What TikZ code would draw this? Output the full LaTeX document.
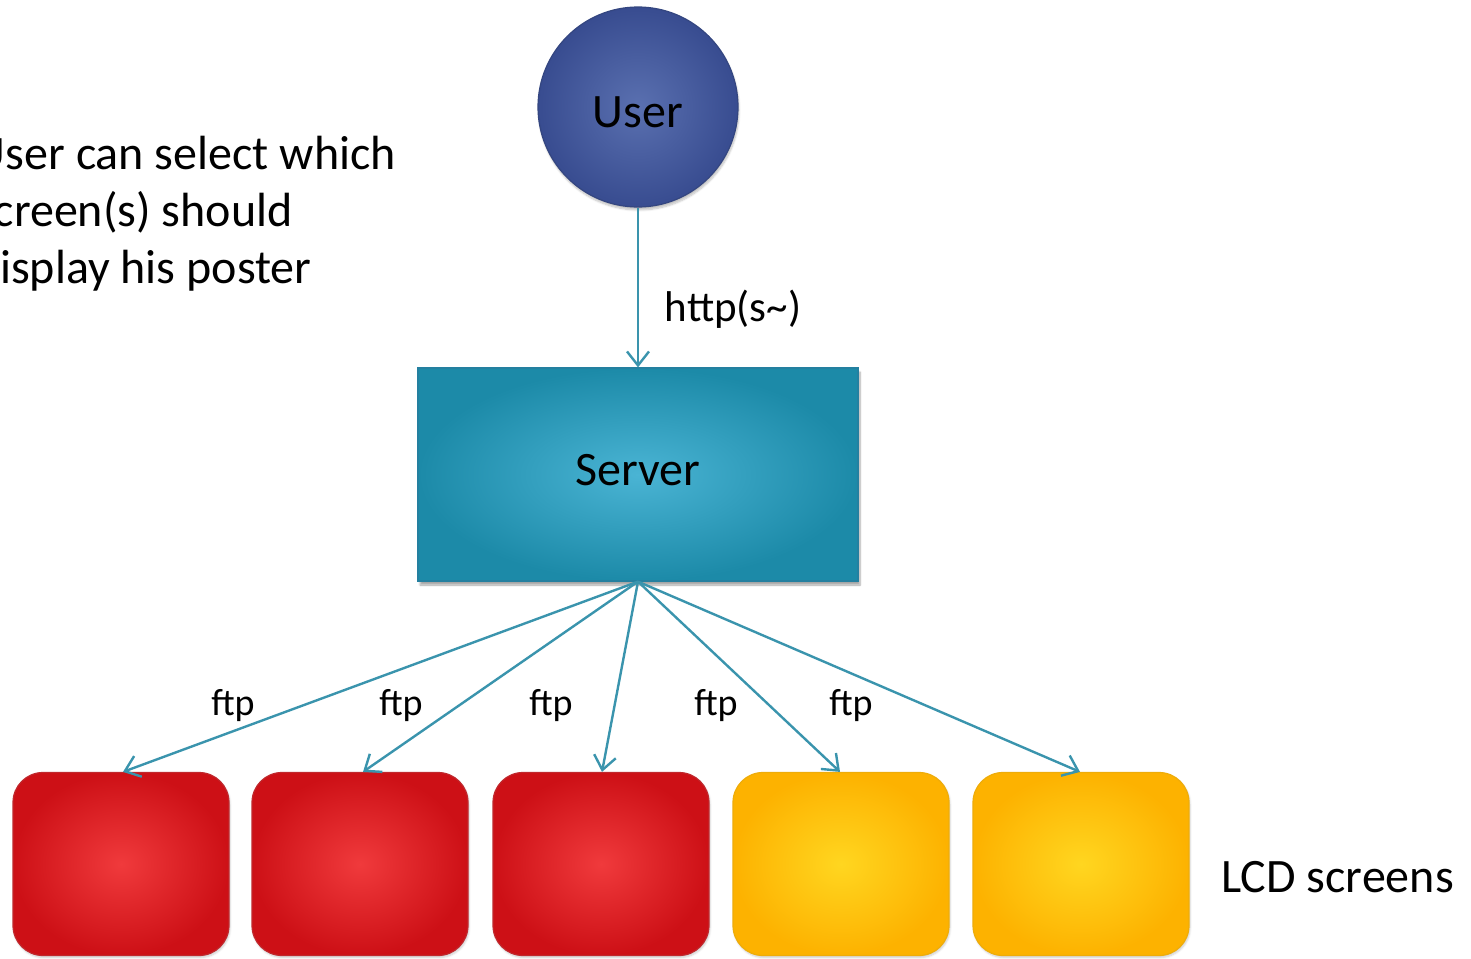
\documentclass[tikz,border=0pt]{standalone}
\usepackage{fontspec}
\setmainfont{Carlito}
\usetikzlibrary{arrows.meta,shadows.blur}

\definecolor{linkteal}{RGB}{58,148,173}
\definecolor{userin}{RGB}{90,112,176}
\definecolor{userout}{RGB}{56,76,144}
\definecolor{userline}{RGB}{52,70,128}
\definecolor{srvin}{RGB}{74,180,212}
\definecolor{srvout}{RGB}{28,138,168}
\definecolor{srvline}{RGB}{36,128,160}
\definecolor{redin}{RGB}{240,58,60}
\definecolor{redout}{RGB}{205,16,22}
\definecolor{redline}{RGB}{192,40,45}
\definecolor{ylwin}{RGB}{255,214,32}
\definecolor{ylwout}{RGB}{253,178,0}
\definecolor{ylwline}{RGB}{238,172,10}

\tikzset{
  bigtext/.style={font=\fontsize{48}{57}\selectfont},
  usercirc/.style={circle, minimum size=200pt, inner sep=0pt, draw=userline,
    line width=1.2pt, inner color=userin, outer color=userout, bigtext,
    text height=40pt, text depth=0pt,
    blur shadow={shadow xshift=1pt, shadow yshift=-3pt, shadow opacity=25, shadow blur steps=6}},
  serverbox/.style={rectangle, minimum width=440pt, minimum height=213pt, inner sep=0pt,
    draw=srvline, line width=1.2pt, inner color=srvin, outer color=srvout, bigtext,
    text height=31pt, text depth=9pt,
    blur shadow={shadow xshift=2pt, shadow yshift=-4pt, shadow opacity=35, shadow blur steps=6}},
  screenbox/.style={rectangle, rounded corners=30pt, minimum width=216pt,
    minimum height=183pt, inner sep=0pt, line width=1.2pt,
    blur shadow={shadow xshift=1pt, shadow yshift=-2pt, shadow opacity=20, shadow blur steps=5}},
  redscreen/.style={screenbox, draw=redline, inner color=redin, outer color=redout},
  ylwscreen/.style={screenbox, draw=ylwline, inner color=ylwin, outer color=ylwout},
  link/.style={draw=linkteal, line width=2.4pt,
    -{Straight Barb[length=14pt, width=22pt]}},
  ftplabel/.style={font=\fontsize{38}{44}\selectfont, inner sep=0pt},
}

\begin{document}
\begin{tikzpicture}[x=1pt, y=-1pt]
  \useasboundingbox (0,0) rectangle (1471,958);

  % user and server
  \node[usercirc] (user) at (638,107) {User};
  \node[serverbox] (server) at (638,474.5) {Server};

  % the five LCD screens
  \node[redscreen] (s1) at (121,864) {};
  \node[redscreen] (s2) at (360,864) {};
  \node[redscreen] (s3) at (601,864) {};
  \node[ylwscreen] (s4) at (841,864) {};
  \node[ylwscreen] (s5) at (1081,864) {};

  % connectors
  \draw[link] (user.south) -- (server.north);
  \foreach \s/\dx in {s1/2, s2/3, s3/1, s4/-1, s5/-1} {
    \draw[link] (server.south) -- ([xshift=\dx pt]\s.north);
  }

  % labels
  \node[font=\fontsize{43}{50}\selectfont, inner sep=0pt] (http) at (733,309) {http(s\textasciitilde)};
  \node[ftplabel] (f1) at (233,706) {ftp};
  \node[ftplabel] (f2) at (401,706) {ftp};
  \node[ftplabel] (f3) at (551,706) {ftp};
  \node[ftplabel] (f4) at (716,706) {ftp};
  \node[ftplabel] (f5) at (851,706) {ftp};

  \node[bigtext, inner sep=0pt, anchor=base west] (lcd) at (1221,892) {LCD screens};

  \node[bigtext, inner sep=0pt, align=left, anchor=north east] (note) at (396,136)
    {User can select which\\screen(s) should\\display his poster};
\end{tikzpicture}
\end{document}
